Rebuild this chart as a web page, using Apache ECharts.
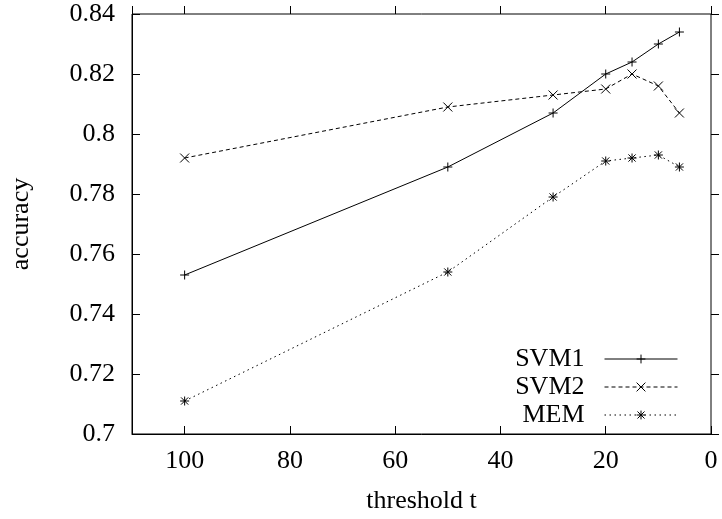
<!DOCTYPE html>
<html>
<head>
<meta charset="utf-8">
<script src="https://cdn.jsdelivr.net/npm/echarts@6/dist/echarts.min.js"></script>
<style>
  html, body { margin: 0; padding: 0; background: #fff; }
  #chart { width: 722px; height: 519px; }
</style>
</head>
<body>
<div id="chart"></div>
<script>
// Accuracy of each classifier as the threshold t is lowered
const thresholds = [100, 50, 30, 20, 15, 10, 6];
const svm1 = [0.753, 0.789, 0.807, 0.820, 0.824, 0.830, 0.834];
const svm2 = [0.792, 0.809, 0.813, 0.815, 0.820, 0.816, 0.807];
const mem  = [0.711, 0.754, 0.779, 0.791, 0.792, 0.793, 0.789];
const seriesNames = ['SVM1', 'SVM2', 'MEM'];

const FONT = '"Liberation Serif", "Times New Roman", serif';

// gnuplot-like point glyphs drawn as stroked paths
const PLUS = 'path://M0,5L10,5M5,0L5,10';
const CROSS = 'path://M0,0L10,10M0,10L10,0';
const STAR = 'path://M0,5L10,5M5,0L5,10M1,1L9,9M1,9L9,1';

const pairs = vals => thresholds.map((t, i) => [t, vals[i]]);

function lineSeries(name, vals, symbol, dash, index) {
  return {
    name: name,
    type: 'line',
    xAxisIndex: 0,
    yAxisIndex: 0,
    data: pairs(vals),
    symbol: symbol,
    symbolSize: 9,
    showAllSymbol: true,
    z: 3 + index,
    lineStyle: { color: '#000', width: 1, type: dash },
    itemStyle: { color: 'none', borderColor: '#000', borderWidth: 1 },
    emphasis: { disabled: true },
    animation: false
  };
}

// tick settings; `inside` chooses the side of the frame they sit on
const ticks = inside => ({ show: true, inside: inside, length: 8, lineStyle: { color: '#000', width: 1 } });
const labelFont = extra => Object.assign({ fontFamily: FONT, fontSize: 26, color: '#000' }, extra);
const frameLine = () => ({ show: true, onZero: false, lineStyle: { color: '#000', width: 1 } });

const chart = echarts.init(document.getElementById('chart'), null, { renderer: 'canvas' });

chart.setOption({
  backgroundColor: '#fff',
  animation: false,
  grid: {
    left: 132, right: 11, top: 14, bottom: 85,
    show: true, borderColor: '#000', borderWidth: 1, backgroundColor: 'transparent'
  },
  legend: {
    orient: 'vertical',
    right: 39,
    top: 340,
    align: 'right',
    itemWidth: 73,
    itemHeight: 11,
    itemGap: 0,
    selectedMode: false,
    itemStyle: { borderWidth: 1, borderColor: '#000', color: 'none' },
    lineStyle: { width: 1, color: '#000' },
    textStyle: labelFont({ lineHeight: 28, padding: [0, 15, 0, 0] }),
    data: seriesNames
  },
  xAxis: [
    {
      type: 'value',
      position: 'bottom',
      min: 0, max: 110, interval: 20,
      inverse: true,
      name: 'threshold t',
      nameLocation: 'middle',
      nameGap: 54,
      nameTextStyle: labelFont({}),
      axisLine: frameLine(),
      axisTick: ticks(true),
      axisLabel: labelFont({ margin: 14, showMaxLabel: false }),
      splitLine: { show: false }
    },
    {
      type: 'value',
      position: 'top',
      min: 0, max: 110, interval: 20,
      inverse: true,
      axisLine: { show: false },
      axisTick: ticks(false),
      axisLabel: { show: false },
      splitLine: { show: false }
    }
  ],
  yAxis: [
    {
      type: 'value',
      position: 'left',
      min: 0.7, max: 0.84, interval: 0.02,
      name: 'accuracy',
      nameLocation: 'middle',
      nameGap: 98,
      nameTextStyle: labelFont({}),
      axisLine: frameLine(),
      axisTick: ticks(true),
      axisLabel: labelFont({ margin: 17 }),
      splitLine: { show: false }
    },
    {
      type: 'value',
      position: 'right',
      min: 0.7, max: 0.84, interval: 0.02,
      axisLine: { show: false },
      axisTick: ticks(false),
      axisLabel: { show: false },
      splitLine: { show: false }
    }
  ],
  series: [
    lineSeries(seriesNames[0], svm1, PLUS, 'solid', 0),
    lineSeries(seriesNames[1], svm2, CROSS, [4, 3], 1),
    lineSeries(seriesNames[2], mem, STAR, [1.5, 3.5], 2)
  ]
});
</script>
</body>
</html>
